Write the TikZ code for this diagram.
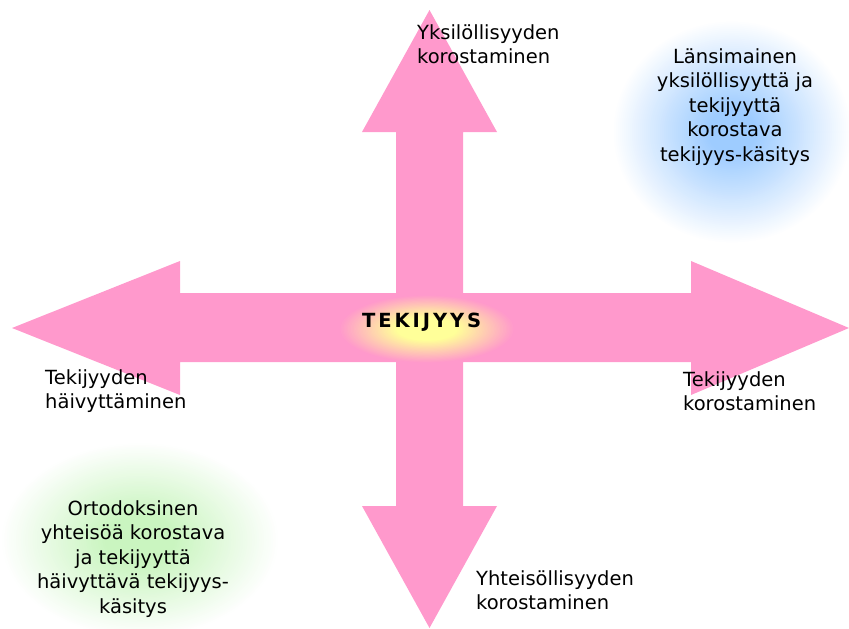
\documentclass[tikz,border=0pt]{standalone}
\usepackage{fontspec}
\setmainfont{DejaVu Sans}
\definecolor{arrowpink}{HTML}{FF99CC}
\definecolor{glowyellow}{HTML}{FFFF99}
\definecolor{glowblue}{HTML}{9ECCFF}
\definecolor{glowgreen}{HTML}{CAF5C0}
\newcommand{\softglow}[6]{% center, xr, yr, inner colour, outer colour, fade fraction
  \foreach \k in {0,...,60}{%
    \pgfmathsetmacro\gf{1-\k/60}%
    \pgfmathsetmacro\gp{min(100,100*(1-\gf)/#6)}%
    \fill[#4!\gp!#5] #1 ellipse [x radius=\gf*#2, y radius=\gf*#3];
  }}
\tikzset{
  lbl/.style={inner sep=0pt, text=black, font=\fontsize{19.5}{24}\selectfont},
  lblc/.style={lbl, align=center, font=\fontsize{19.5}{24.5}\selectfont},
  lbll/.style={lbl, align=left, anchor=west},
  crossarrow/.style={fill=arrowpink, draw=none}
}
\begin{document}
\begin{tikzpicture}[x=1pt,y=-1pt]
\useasboundingbox (0,0) rectangle (849,629);
% glows
\softglow{(732,132)}{120pt}{112pt}{glowblue}{white}{0.8}
\softglow{(140,540)}{140pt}{98pt}{glowgreen}{white}{0.75}
% four-way arrow
\fill[crossarrow] (429.5,10) -- (497,132) -- (463,132) -- (463,293) -- (691,293) -- (691,261)
  -- (849,328) -- (691,395) -- (691,362) -- (463,362) -- (463,506) -- (497,506)
  -- (429.5,628) -- (362,506) -- (396,506) -- (396,362) -- (180,362) -- (180,395)
  -- (12,328) -- (180,261) -- (180,293) -- (396,293) -- (396,132) -- (362,132) -- cycle;
\softglow{(427,329)}{88pt}{34pt}{glowyellow}{arrowpink}{0.65}
% labels
\node[lbl, anchor=base west, font=\fontsize{19.5}{24}\selectfont\bfseries\addfontfeature{LetterSpace=15}] (center) at (362,327) {TEKIJYYS};
\node[lbll] (up) at (417,44) {Yksilöllisyyden\\korostaminen};
\node[lbll] (left) at (45,391) {Tekijyyden\\häivyttäminen};
\node[lbll] (right) at (683,391) {Tekijyyden\\korostaminen};
\node[lbll] (down) at (476,590) {Yhteisöllisyyden\\korostaminen};
\node[lblc] (west) at (735,107) {Länsimainen\\yksilöllisyyttä ja\\tekijyyttä\\korostava\\tekijyys-käsitys};
\node[lblc] (orto) at (133,559) {Ortodoksinen\\yhteisöä korostava\\ja tekijyyttä\\häivyttävä tekijyys-\\käsitys};
\end{tikzpicture}
\end{document}
